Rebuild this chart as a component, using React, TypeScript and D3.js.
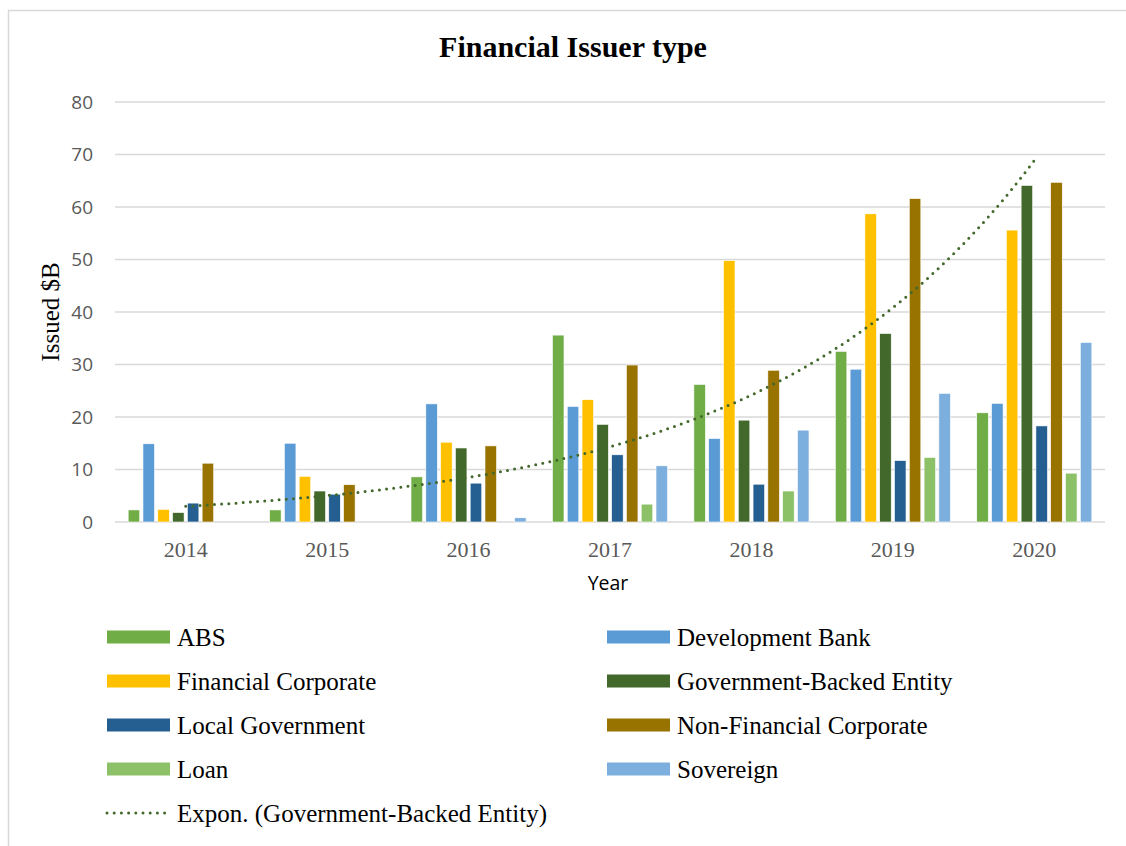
import React from "react";
import * as d3 from "d3";

const years = ["2014", "2015", "2016", "2017", "2018", "2019", "2020"];

const seriesNames = [
  "ABS",
  "Development Bank",
  "Financial Corporate",
  "Government-Backed Entity",
  "Local Government",
  "Non-Financial Corporate",
  "Loan",
  "Sovereign",
];

const seriesColors = ["#70AD47", "#5B9BD5", "#FFC000", "#43682B", "#255E91", "#997300", "#8CC168", "#7CAFDD"];

// issued $B per year, one array per issuer type
const abs = [2.3, 2.3, 8.6, 35.6, 26.2, 32.5, 20.8];
const developmentBank = [14.9, 15.0, 22.5, 22.0, 15.9, 29.1, 22.6];
const financialCorporate = [2.4, 8.7, 15.2, 23.3, 49.8, 58.7, 55.6];
const governmentBacked = [1.8, 5.9, 14.1, 18.6, 19.4, 35.9, 64.1];
const localGovernment = [3.6, 5.3, 7.4, 12.8, 7.2, 11.7, 18.3];
const nonFinancialCorporate = [11.2, 7.1, 14.5, 29.9, 28.9, 61.6, 64.7];
const loan = [0, 0, 0, 3.4, 5.9, 12.3, 9.3];
const sovereign = [0, 0, 0.8, 10.7, 17.5, 24.5, 34.2];

const seriesValues = [abs, developmentBank, financialCorporate, governmentBacked, localGovernment, nonFinancialCorporate, loan, sovereign];

const yTicks = [0, 10, 20, 30, 40, 50, 60, 70, 80];

const W = 1126;
const H = 846;
const plot = { left: 115, right: 1105, top: 102, bottom: 522 };
const serif = "'Liberation Serif', 'Times New Roman', serif";

// exponential least-squares fit, like Excel's "Expon." trendline
function expFit(vals: number[]) {
  const xs = vals.map((_, i) => i + 1);
  const ls = vals.map((v) => Math.log(v));
  const mx = d3.mean(xs)!;
  const ml = d3.mean(ls)!;
  let sxy = 0, sxx = 0;
  xs.forEach((x, i) => {
    sxy += (x - mx) * (ls[i] - ml);
    sxx += (x - mx) * (x - mx);
  });
  const b = sxy / sxx;
  const a = Math.exp(ml - b * mx);
  return (t: number) => a * Math.exp(b * t);
}

export default function App() {
  const x0 = d3.scaleBand().domain(years).range([plot.left, plot.right]).padding(0);
  const x1 = d3.scaleBand().domain(seriesNames).range([0, x0.bandwidth()]).paddingInner(0.22).paddingOuter(0.89);
  const y = d3.scaleLinear().domain([0, 80]).range([plot.bottom, plot.top]);

  const fit = expFit(governmentBacked);
  const xCat = d3.scaleLinear().domain([1, years.length]).range([x0(years[0])! + x0.bandwidth() / 2, x0(years[years.length - 1])! + x0.bandwidth() / 2]);
  const samples = d3.range(1, years.length + 0.001, 0.05);
  const trend = d3.line<number>().x((t) => xCat(t)).y((t) => y(fit(t)))(samples);

  const legendItems = seriesNames.map((n, i) => ({ name: n, color: seriesColors[i], col: i % 2, row: Math.floor(i / 2) }));
  const legendX = [107, 607];
  const legendY = [637, 681, 725, 769, 813];

  return (
    <svg width={W} height={H} style={{ position: "absolute", left: 0, top: 0 }}>
      <rect x={0} y={0} width={W} height={H} fill="#fff" />
      <rect x={8.5} y={10.5} width={1120} height={850} fill="none" stroke="#D9D9D9" strokeWidth={1.5} />

      <text x={573} y={57} textAnchor="middle" fontFamily={serif} fontWeight="bold" fontSize={30} fill="#000">
        Financial Issuer type
      </text>

      {yTicks.map((t) => (
        <g key={t}>
          <line x1={plot.left} x2={plot.right} y1={y(t)} y2={y(t)} stroke="#D9D9D9" strokeWidth={1.5} />
          <text x={93} y={y(t)} dy="0.35em" textAnchor="end" fontFamily="'Open Sans', sans-serif" fontSize={19} fill="#595959">
            {t}
          </text>
        </g>
      ))}

      {years.map((yr, yi) => (
        <g key={yr} transform={`translate(${x0(yr)},0)`}>
          {seriesNames.map((s, si) => {
            const v = seriesValues[si][yi];
            if (!v) return null;
            return (
              <rect
                key={s}
                x={x1(s)}
                y={y(v)}
                width={x1.bandwidth()}
                height={y(0) - y(v)}
                fill={seriesColors[si]}
                stroke="#fff"
                strokeWidth={0.6}
              />
            );
          })}
          <text x={x0.bandwidth() / 2} y={549} dy="0.35em" textAnchor="middle" fontFamily={serif} fontSize={22} fill="#595959">
            {yr}
          </text>
        </g>
      ))}

      <path d={trend ?? ""} fill="none" stroke="#43682B" strokeWidth={3} strokeLinecap="round" strokeDasharray="0 7.2" />

      <text x={608} y={583} dy="0.35em" textAnchor="middle" fontFamily="'Open Sans', sans-serif" fontSize={19.5} fill="#000">
        Year
      </text>
      <text transform={`translate(50,${(plot.top + plot.bottom) / 2}) rotate(-90)`} textAnchor="middle" dy="0.35em" fontFamily={serif} fontSize={25} fill="#000">
        Issued $B
      </text>

      {legendItems.map((it) => (
        <g key={it.name} transform={`translate(${legendX[it.col]},${legendY[it.row]})`}>
          <rect x={0} y={-6.5} width={63} height={13} fill={it.color} />
          <text x={70} y={0} dy="0.35em" fontFamily={serif} fontSize={25} fill="#000">
            {it.name}
          </text>
        </g>
      ))}
      <g transform={`translate(${legendX[0]},${legendY[4]})`}>
        <line x1={0} x2={63} y1={0} y2={0} stroke="#43682B" strokeWidth={3} strokeLinecap="round" strokeDasharray="0 7.2" />
        <text x={70} y={0} dy="0.35em" fontFamily={serif} fontSize={25} fill="#000">
          Expon. (Government-Backed Entity)
        </text>
      </g>
    </svg>
  );
}
